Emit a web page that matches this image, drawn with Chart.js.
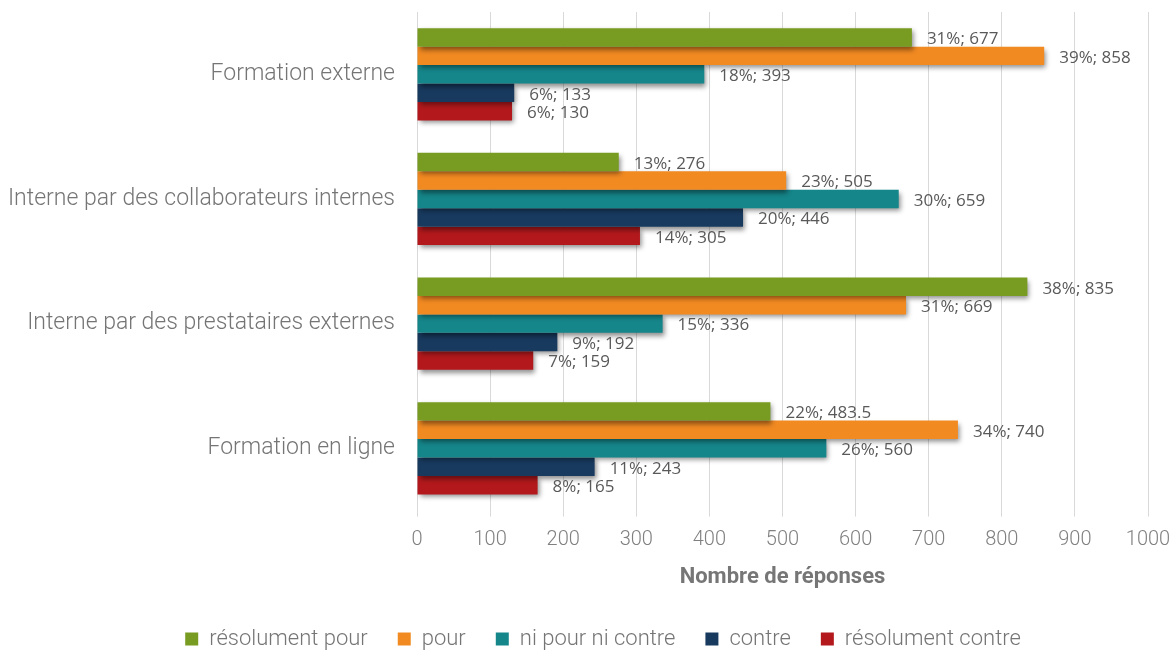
<!DOCTYPE html>
<html><head><meta charset="utf-8">
<script src="https://cdn.jsdelivr.net/npm/chart.js@4"></script>
<style>html,body{margin:0;padding:0;background:#fff}#wrap{width:1173px;height:650px}</style>
</head><body><div id="wrap"><canvas id="c" width="1173" height="650"></canvas></div>
<script>
const categories = ["Formation externe", "Interne par des collaborateurs internes", "Interne par des prestataires externes", "Formation en ligne"];
const seriesNames = ["résolument pour", "pour", "ni pour ni contre", "contre", "résolument contre"];
const resolumentPour = [677, 276, 835, 483.5];
const pour = [858, 505, 669, 740];
const niPourNiContre = [393, 659, 336, 560];
const contre = [133, 446, 192, 243];
const resolumentContre = [130, 305, 159, 165];
const pctResolumentPour = ["31%", "13%", "38%", "22%"];
const pctPour = ["39%", "23%", "31%", "34%"];
const pctNiPourNiContre = ["18%", "30%", "15%", "26%"];
const pctContre = ["6%", "20%", "9%", "11%"];
const pctResolumentContre = ["6%", "14%", "7%", "8%"];
const xTicks = [0, 100, 200, 300, 400, 500, 600, 700, 800, 900, 1000];

const colors = ["#789B21", "#F28A22", "#15868A", "#183A5F", "#B3191C"];
const values = [resolumentPour, pour, niPourNiContre, contre, resolumentContre];
const pcts = [pctResolumentPour, pctPour, pctNiPourNiContre, pctContre, pctResolumentContre];

const shadowPlugin = {
  id: 'shadow',
  afterLayout(chart) {
    if (chart.legend) { chart.legend.left += 29; chart.legend.right += 29; }
  },
  beforeDatasetsDraw(chart) {
    const ctx = chart.ctx; ctx.save();
    ctx.shadowColor = 'rgba(0,0,0,0.45)'; ctx.shadowBlur = 5; ctx.shadowOffsetX = 2; ctx.shadowOffsetY = 3;
  },
  afterDatasetsDraw(chart) {
    const ctx = chart.ctx; ctx.restore();
    ctx.save();
    ctx.font = '17px "Open Sans", sans-serif';
    ctx.fillStyle = '#595959';
    ctx.textAlign = 'left'; ctx.textBaseline = 'middle';
    chart.data.datasets.forEach((ds, di) => {
      const meta = chart.getDatasetMeta(di);
      meta.data.forEach((bar, i) => {
        const txt = pcts[di][i] + '; ' + ds.data[i];
        ctx.fillText(txt, bar.x + 15, bar.y + 2);
      });
    });
    ctx.restore();
  }
};

new Chart(document.getElementById('c'), {
  type: 'bar',
  data: {
    labels: categories,
    datasets: seriesNames.map((n, i) => ({
      label: n, data: values[i], backgroundColor: colors[i], borderWidth: 0,
      barPercentage: 1, categoryPercentage: 0.74
    }))
  },
  options: {
    indexAxis: 'y', responsive: false, animation: false,
    layout: { padding: { top: 12, right: 25, left: 0, bottom: -10 } },
    scales: {
      x: {
        min: 0, max: 1000,
        afterBuildTicks(ax) { ax.ticks = xTicks.map(v => ({ value: v })); },
        afterFit(ax) { ax.paddingLeft = 0; ax.paddingRight = 0; },
        grid: { color: '#d9d9d9', lineWidth: 1, drawTicks: true, tickLength: 6 },
        border: { display: false },
        ticks: { color: '#808080', font: { family: 'Roboto', size: 20, weight: '300' }, padding: 11, callback: v => String(v) },
        title: { display: true, text: 'Nombre de réponses', color: '#767676', font: { family: 'Roboto', size: 22, weight: 'bold' }, padding: { top: 2, bottom: 7 } }
      },
      y: {
        afterFit(ax) { ax.width = 417; ax.paddingTop = 0; ax.paddingBottom = 0; },
        grid: { display: false }, border: { display: false },
        ticks: { color: '#757575', font: { family: 'Roboto', size: 23, weight: '300' }, padding: 14 }
      }
    },
    plugins: {
      legend: {
        position: 'bottom',
        labels: { boxWidth: 13, boxHeight: 13, color: '#757575', font: { family: 'Roboto', size: 22, weight: '300' }, padding: 30 }
      },
      tooltip: { enabled: false }
    }
  },
  plugins: [shadowPlugin]
});
</script></body></html>
